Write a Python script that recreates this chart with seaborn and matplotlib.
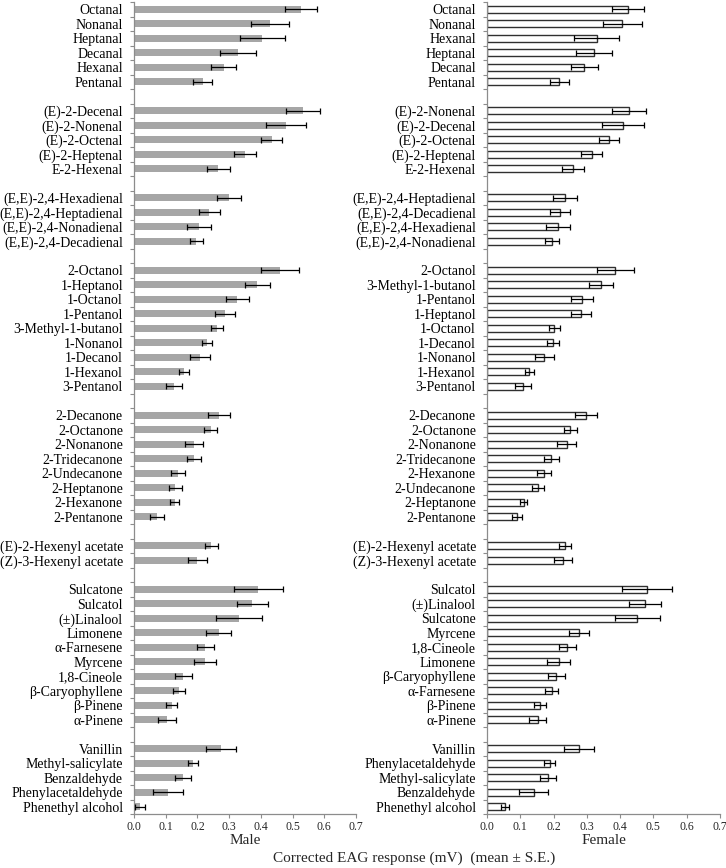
import numpy as np
import pandas as pd
import seaborn as sns
import matplotlib.pyplot as plt
from matplotlib.ticker import FixedLocator, FormatStrFormatter

# compounds come in 8 chemical groups, same sizes in both panels
group_sizes = [6, 5, 4, 9, 8, 2, 10, 5]

male_names = ['Octanal', 'Nonanal', 'Heptanal', 'Decanal', 'Hexanal', 'Pentanal',
              '(E)-2-Decenal', '(E)-2-Nonenal', '(E)-2-Octenal', '(E)-2-Heptenal', 'E-2-Hexenal',
              '(E,E)-2,4-Hexadienal', '(E,E)-2,4-Heptadienal', '(E,E)-2,4-Nonadienal',
              '(E,E)-2,4-Decadienal',
              '2-Octanol', '1-Heptanol', '1-Octanol', '1-Pentanol', '3-Methyl-1-butanol',
              '1-Nonanol', '1-Decanol', '1-Hexanol', '3-Pentanol',
              '2-Decanone', '2-Octanone', '2-Nonanone', '2-Tridecanone', '2-Undecanone',
              '2-Heptanone', '2-Hexanone', '2-Pentanone',
              '(E)-2-Hexenyl acetate', '(Z)-3-Hexenyl acetate',
              'Sulcatone', 'Sulcatol', '(±)Linalool', 'Limonene', 'α-Farnesene', 'Myrcene',
              '1,8-Cineole', 'β-Caryophyllene', 'β-Pinene', 'α-Pinene',
              'Vanillin', 'Methyl-salicylate', 'Benzaldehyde', 'Phenylacetaldehyde',
              'Phenethyl alcohol']
male_means = [0.527, 0.429, 0.404, 0.329, 0.283, 0.217,
              0.532, 0.480, 0.435, 0.351, 0.266,
              0.299, 0.237, 0.206, 0.197,
              0.461, 0.389, 0.326, 0.287, 0.262, 0.231, 0.209, 0.158, 0.126,
              0.268, 0.242, 0.189, 0.188, 0.139, 0.130, 0.128, 0.073,
              0.244, 0.200,
              0.392, 0.373, 0.331, 0.267, 0.225, 0.223, 0.156, 0.142, 0.119, 0.104,
              0.275, 0.185, 0.155, 0.107, 0.019]
male_se = [0.050, 0.061, 0.071, 0.057, 0.039, 0.030,
           0.054, 0.063, 0.033, 0.035, 0.036,
           0.037, 0.033, 0.038, 0.020,
           0.059, 0.040, 0.036, 0.032, 0.018, 0.016, 0.031, 0.015, 0.025,
           0.034, 0.020, 0.028, 0.022, 0.021, 0.021, 0.013, 0.021,
           0.020, 0.030,
           0.078, 0.048, 0.072, 0.040, 0.026, 0.035, 0.027, 0.019, 0.018, 0.027,
           0.047, 0.016, 0.026, 0.046, 0.017]

female_names = ['Octanal', 'Nonanal', 'Hexanal', 'Heptanal', 'Decanal', 'Pentanal',
                '(E)-2-Nonenal', '(E)-2-Decenal', '(E)-2-Octenal', '(E)-2-Heptenal', 'E-2-Hexenal',
                '(E,E)-2,4-Heptadienal', '(E,E)-2,4-Decadienal', '(E,E)-2,4-Hexadienal',
                '(E,E)-2,4-Nonadienal',
                '2-Octanol', '3-Methyl-1-butanol', '1-Pentanol', '1-Heptanol', '1-Octanol',
                '1-Decanol', '1-Nonanol', '1-Hexanol', '3-Pentanol',
                '2-Decanone', '2-Octanone', '2-Nonanone', '2-Tridecanone', '2-Hexanone',
                '2-Undecanone', '2-Heptanone', '2-Pentanone',
                '(E)-2-Hexenyl acetate', '(Z)-3-Hexenyl acetate',
                'Sulcatol', '(±)Linalool', 'Sulcatone', 'Myrcene', '1,8-Cineole', 'Limonene',
                'β-Caryophyllene', 'α-Farnesene', 'β-Pinene', 'α-Pinene',
                'Vanillin', 'Phenylacetaldehyde', 'Methyl-salicylate', 'Benzaldehyde',
                'Phenethyl alcohol']
female_means = [0.424, 0.406, 0.329, 0.321, 0.292, 0.217,
                0.427, 0.409, 0.366, 0.314, 0.258,
                0.234, 0.219, 0.213, 0.195,
                0.386, 0.343, 0.284, 0.283, 0.202, 0.197, 0.172, 0.127, 0.107,
                0.297, 0.250, 0.239, 0.193, 0.172, 0.153, 0.110, 0.091,
                0.233, 0.227,
                0.481, 0.475, 0.452, 0.276, 0.241, 0.215, 0.208, 0.194, 0.159, 0.152,
                0.276, 0.188, 0.184, 0.140, 0.053]
female_se = [0.049, 0.059, 0.067, 0.055, 0.040, 0.028,
             0.050, 0.063, 0.030, 0.032, 0.033,
             0.036, 0.030, 0.036, 0.020,
             0.056, 0.037, 0.033, 0.030, 0.016, 0.018, 0.028, 0.013, 0.024,
             0.033, 0.019, 0.028, 0.022, 0.021, 0.018, 0.010, 0.015,
             0.018, 0.027,
             0.075, 0.047, 0.068, 0.029, 0.026, 0.034, 0.026, 0.020, 0.018, 0.025,
             0.044, 0.016, 0.024, 0.044, 0.012]

x_ticks = [0.0, 0.1, 0.2, 0.3, 0.4, 0.5, 0.6, 0.7]

sns.set_style('white')
plt.rcParams['font.family'] = ['Liberation Serif', 'DejaVu Serif']
axis_grey = '#8c8c8c'


def build_order(names):
    # one blank slot between groups, each blank name unique
    order = []
    i = 0
    for g, n in enumerate(group_sizes):
        if g > 0:
            order.append(' ' * g)
        order.extend(names[i:i + n])
        i += n
    return order


def draw_panel(ax, names, means, se, label, bar_kw):
    df = pd.DataFrame({'compound': names, 'response': means, 'se': se})
    order = build_order(names)
    sns.barplot(data=df, x='response', y='compound', order=order, orient='h',
                errorbar=None, width=0.5, saturation=1, ax=ax, **bar_kw)
    pos = [order.index(n) for n in names]
    ax.errorbar(df['response'], pos, xerr=df['se'], fmt='none', ecolor='black',
                elinewidth=0.9, capsize=2, capthick=0.9, zorder=5)

    ax.set_xlim(0, 0.7)
    ax.set_ylim(len(order) - 0.5, -0.5)
    ax.set_xticks(x_ticks)
    ax.xaxis.set_major_formatter(FormatStrFormatter('%.1f'))
    ax.yaxis.set_minor_locator(FixedLocator(np.arange(-0.5, len(order), 1.0)))

    ax.spines['right'].set_visible(False)
    ax.spines['top'].set_visible(False)
    for side in ['left', 'bottom']:
        ax.spines[side].set_color(axis_grey)
        ax.spines[side].set_linewidth(0.9)
    ax.tick_params(axis='y', which='major', length=0, pad=8, labelsize=10, colors='black')
    ax.tick_params(axis='y', which='minor', length=3, width=0.8, color=axis_grey, left=True)
    ax.tick_params(axis='x', which='major', length=3, width=0.8, color=axis_grey,
                   labelsize=8.5, pad=2, bottom=True)
    ax.set_ylabel('')
    ax.set_xlabel(label, fontsize=11, labelpad=1)


fig = plt.figure(figsize=(7.26, 8.68), dpi=100)
ax_m = fig.add_axes([134 / 726, 54 / 868, 222 / 726, 812 / 868])
ax_f = fig.add_axes([487 / 726, 54 / 868, 233 / 726, 812 / 868])

draw_panel(ax_m, male_names, male_means, male_se, 'Male',
           dict(color='#a6a6a6', edgecolor='none'))
draw_panel(ax_f, female_names, female_means, female_se, 'Female',
           dict(color='white', edgecolor='#303030', linewidth=1))

fig.text(414 / 726, 10 / 868, 'Corrected EAG response (mV)  (mean ± S.E.)',
         ha='center', va='center', fontsize=11)

fig.savefig('out.png', dpi=100)
